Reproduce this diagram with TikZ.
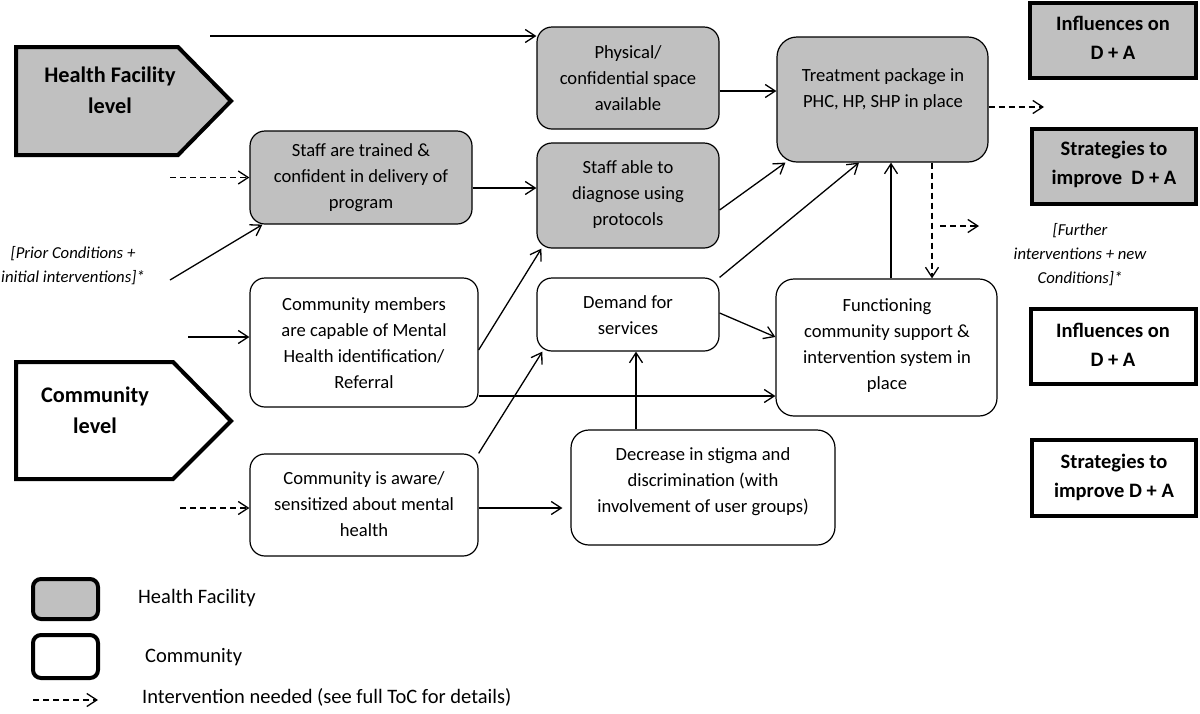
\documentclass[tikz,border=0pt]{standalone}
\usepackage{fontspec}
\setmainfont{Carlito}
\usetikzlibrary{arrows.meta}
\definecolor{hfgray}{RGB}{192,192,192}
\tikzset{
 box/.style={draw, line width=1.2pt, rounded corners=15pt, inner sep=0pt},
 hfbox/.style={box, fill=hfgray},
 cbox/.style={box, fill=white},
 txt/.style={align=center, font=\fontsize{18.6}{26}\selectfont, inner sep=0pt},
 head/.style={align=center, font=\bfseries\fontsize{22.3}{31}\selectfont, inner sep=0pt},
 sidebox/.style={draw, line width=4pt, inner sep=0pt},
 sidetxt/.style={align=center, font=\bfseries\fontsize{20.5}{29}\selectfont, inner sep=0pt},
 note/.style={align=center, font=\itshape\fontsize{16.7}{24}\selectfont, inner sep=0pt},
 arr/.style={-{Straight Barb[length=10pt,width=13pt]}, line width=1.3pt},
 darr/.style={arr, dash pattern=on 6pt off 4pt},
 legtxt/.style={anchor=west, font=\fontsize{20.5}{24}\selectfont, inner sep=0pt},
 legbox/.style={draw, line width=4pt, rounded corners=8pt, minimum width=65pt, inner sep=0pt},
}
\begin{document}
\begin{tikzpicture}[x=1pt,y=-1pt]
\useasboundingbox (0,0) rectangle (1200,713);

% level pentagons
\draw[line width=4pt, fill=hfgray, line join=miter] (16,47) -- (178,47) -- (231,101) -- (178,155) -- (16,155) -- cycle;
\node[head] (hfT) at (110,90) {Health Facility\\level};
\draw[line width=4pt, fill=white, line join=miter] (16,362) -- (173,362) -- (231,421) -- (173,479) -- (16,479) -- cycle;
\node[head] (comT) at (95,410) {Community\\level};

% boxes
\node[hfbox, minimum width=182pt, minimum height=102pt] (phys) at (628,78) {};
\node[txt] (physT) at (628,78) {Physical/\\confidential space\\available};
\node[hfbox, minimum width=222pt, minimum height=93pt] (strain) at (361,177.5) {};
\node[txt] (strainT) at (361,178) {Staff are trained \&\\confident in delivery of\\program};
\node[hfbox, minimum width=182pt, minimum height=105pt] (sable) at (628,195.5) {};
\node[txt] (sableT) at (628,195) {Staff able to\\diagnose using\\protocols};
\node[hfbox, rounded corners=20pt, minimum width=211pt, minimum height=125pt] (treat) at (882.5,99.5) {};
\node[txt] (treatT) at (883,90) {Treatment package in\\PHC, HP, SHP in place};
\node[cbox, minimum width=228pt, minimum height=129pt] (cm) at (364,342.5) {};
\node[txt] (cmT) at (364,343) {Community members\\are capable of Mental\\Health identification/\\Referral};
\node[cbox, minimum width=182pt, minimum height=73pt] (demand) at (628,314.5) {};
\node[txt] (demandT) at (628,315) {Demand for\\services};
\node[cbox, rounded corners=18pt, minimum width=221pt, minimum height=137pt] (func) at (886.5,347.5) {};
\node[txt] (funcT) at (887,346) {Functioning\\community support \&\\intervention system in\\place};
\node[cbox, minimum width=228pt, minimum height=102pt] (caware) at (364,505) {};
\node[txt] (cawareT) at (364,504) {Community is aware/\\sensitized about mental\\health};
\node[cbox, rounded corners=18pt, minimum width=264pt, minimum height=115pt] (decr) at (703,487.5) {};
\node[txt] (decrT) at (703,482) {Decrease in stigma and\\discrimination (with\\involvement of user groups)};

% side boxes
\node[sidebox, fill=hfgray, minimum width=166pt, minimum height=75pt] (infl1) at (1113,40.5) {};
\node[sidetxt] (infl1T) at (1113,38) {Influences on\\D + A};
\node[sidebox, fill=hfgray, minimum width=164pt, minimum height=75pt] (strat1) at (1114,166.5) {};
\node[sidetxt] (strat1T) at (1114,164) {Strategies to\\improve~~D + A};
\node[sidebox, fill=white, minimum width=165pt, minimum height=75pt] (infl2) at (1113.5,346.5) {};
\node[sidetxt] (infl2T) at (1113,345) {Influences on\\D + A};
\node[sidebox, fill=white, minimum width=164pt, minimum height=76pt] (strat2) at (1114,478) {};
\node[sidetxt] (strat2T) at (1114,477) {Strategies to\\improve D + A};

% notes
\node[note] (prior) at (73,266) {[Prior Conditions +\\initial interventions]*};
\node[note] (further) at (1080,255) {[Further\\interventions + new\\Conditions]*};

% free ends
\coordinate (topStart) at (210,36);
\coordinate (dStrain) at (170,177.5);
\coordinate (priorEnd) at (170,280);
\coordinate (cmStart) at (188,337);
\coordinate (dCaware) at (180,508);
\coordinate (outTreat) at (1044,107);
\coordinate (fb1) at (940,226);
\coordinate (fb2) at (979,226);

% connectors
\draw[arr] (topStart) -- ([yshift=42pt]phys.west);
\draw[darr] (dStrain) -- (strain.west);
\draw[arr] (priorEnd) -- ([xshift=13pt]strain.south west);
\draw[arr] ([yshift=-10.5pt]strain.east) -- ([yshift=7.5pt]sable.west);
\draw[arr] ([yshift=-13pt]phys.east) -- ([yshift=8.5pt]treat.west);
\draw[arr] ([yshift=-14.5pt]sable.east) -- ([xshift=9pt]treat.south west);
\draw[arr] (demand.north east) -- ([xshift=-23.5pt]treat.south);
\draw[arr] ([xshift=4.5pt]func.north) -- ([xshift=8.5pt]treat.south);
\draw[darr] ([xshift=49.5pt]treat.south) -- ([xshift=49.5pt]treat.south |- func.north);
\draw[darr] (fb1) -- (fb2);
\draw[darr] ([yshift=-7.5pt]treat.east) -- (outTreat);
\draw[arr] (cmStart) -- ([yshift=5.5pt]cm.west);
\draw[arr] ([yshift=-7.5pt]cm.east) -- ([xshift=5pt]sable.south west);
\draw[arr] ([yshift=-53.5pt]cm.east) -- ([yshift=-48.5pt]func.west);
\draw[arr] ([yshift=1.5pt]demand.east) -- ([yshift=10.5pt]func.west);
\draw[arr] ([xshift=-67pt]decr.north) -- ([xshift=8pt]demand.south);
\draw[darr] (dCaware) -- ([yshift=-3pt]caware.west);
\draw[arr] ([yshift=-3pt]caware.east) -- ([xshift=-8pt,yshift=-20.5pt]decr.west);
\draw[arr] (caware.north east) -- ([xshift=6pt]demand.south west);

% legend
\node[legbox, fill=hfgray, minimum height=40pt] (legHF) at (65.5,599) {};
\node[legtxt] (legHFT) at (138,598) {Health Facility};
\node[legbox, fill=white, minimum height=43pt] (legC) at (65.5,656.5) {};
\node[legtxt] (legCT) at (145,657) {Community};
\coordinate (legA1) at (33,700);
\coordinate (legA2) at (98,700);
\draw[darr] (legA1) -- (legA2);
\node[legtxt] (legAT) at (142,697) {Intervention needed (see full ToC for details)};
\end{tikzpicture}
\end{document}
